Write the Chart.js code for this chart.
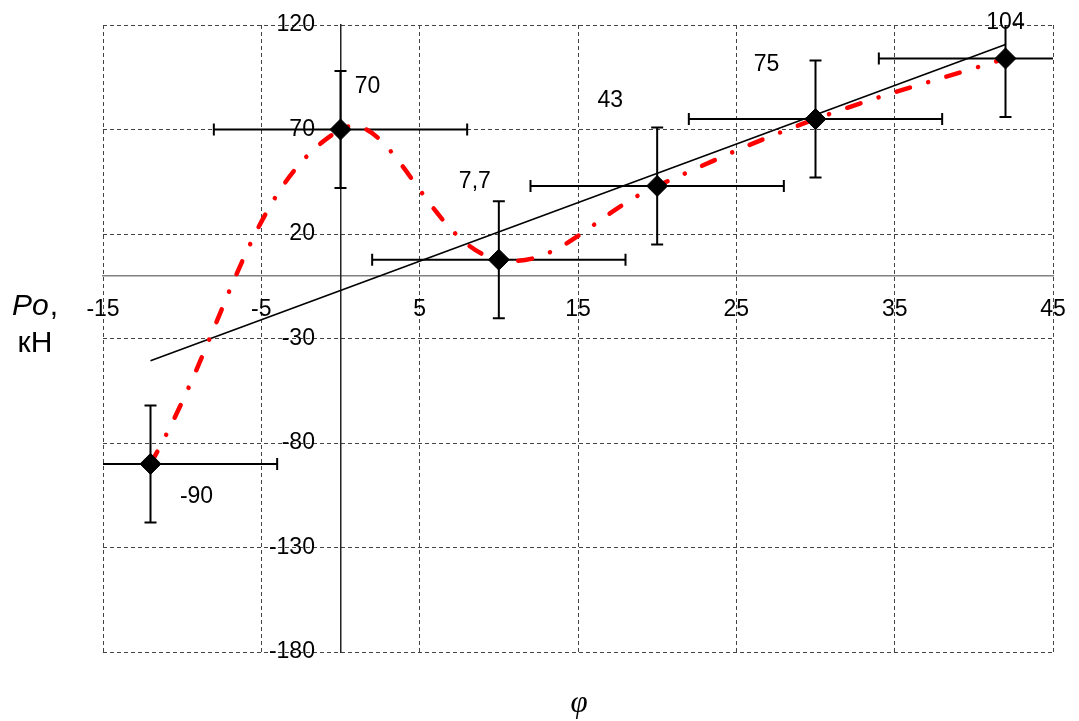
<!DOCTYPE html>
<html>
<head>
<meta charset="utf-8">
<script src="https://cdn.jsdelivr.net/npm/chart.js@4.4.0/dist/chart.umd.min.js"></script>
<style>
  html, body { margin: 0; padding: 0; background: #fff; }
</style>
</head>
<body>
<canvas id="poChart" width="1079" height="721"></canvas>
<script>
// data
const phi = [-12, 0, 10, 20, 30, 42];
const force = [-90, 70, 7.7, 43, 75, 104];
const phiErr = [8, 8, 8, 8, 8, 8];
const forceErr = [28, 28, 28, 28, 28, 28];
const forceLabels = ['-90', '70', '7,7', '43', '75', '104'];
const trendPhi = [-12, 42];
const trendForce = [-40.7, 110.7];
const xTicks = [-15, -5, 5, 15, 25, 35, 45];
const yTicks = [-180, -130, -80, -30, 20, 70, 120];

const FONT = "'Liberation Sans', Arial, sans-serif";

// where each value label sits relative to its point (px)
const labelShift = [[46, 33], [27, -43], [-24, -78], [-47, -85], [-49, -54], [0, -36]];

const errorBars = {
    id: 'errorBars',
    beforeDatasetsDraw(chart) {
        const {ctx, chartArea: a, scales: {x, y}} = chart;
        ctx.save();
        ctx.beginPath();
        ctx.rect(a.left, a.top, a.right - a.left, a.bottom - a.top);
        ctx.clip();
        ctx.strokeStyle = '#000';
        ctx.lineWidth = 2;
        const cap = 6;
        phi.forEach((v, i) => {
            const px = x.getPixelForValue(v);
            const py = y.getPixelForValue(force[i]);
            const x1 = x.getPixelForValue(v - phiErr[i]);
            const x2 = x.getPixelForValue(v + phiErr[i]);
            const y1 = y.getPixelForValue(force[i] + forceErr[i]);
            const y2 = y.getPixelForValue(force[i] - forceErr[i]);
            ctx.beginPath();
            ctx.moveTo(x1, py); ctx.lineTo(x2, py);
            ctx.moveTo(x1, py - cap); ctx.lineTo(x1, py + cap);
            ctx.moveTo(x2, py - cap); ctx.lineTo(x2, py + cap);
            ctx.moveTo(px, y1); ctx.lineTo(px, y2);
            ctx.moveTo(px - cap, y1); ctx.lineTo(px + cap, y1);
            ctx.moveTo(px - cap, y2); ctx.lineTo(px + cap, y2);
            ctx.stroke();
        });
        ctx.restore();
    }
};

const valueLabels = {
    id: 'valueLabels',
    afterDatasetsDraw(chart) {
        const {ctx, scales: {x, y}} = chart;
        ctx.save();
        ctx.fillStyle = '#000';
        ctx.font = '23px ' + FONT;
        ctx.textAlign = 'center';
        ctx.textBaseline = 'middle';
        phi.forEach((v, i) => {
            ctx.fillText(
                forceLabels[i],
                x.getPixelForValue(v) + labelShift[i][0],
                y.getPixelForValue(force[i]) + labelShift[i][1]
            );
        });
        ctx.restore();
    }
};

const axisTitles = {
    id: 'axisTitles',
    afterDraw(chart) {
        const {ctx} = chart;
        ctx.save();
        ctx.fillStyle = '#000';
        ctx.textBaseline = 'alphabetic';
        ctx.textAlign = 'left';
        ctx.font = 'italic 30px ' + FONT;
        ctx.fillText('Po', 12, 315);
        const w = ctx.measureText('Po').width;
        ctx.font = '30px ' + FONT;
        ctx.fillText(',', 12 + w + 1, 315);
        ctx.textAlign = 'center';
        ctx.fillText('кН', 35, 352);
        ctx.font = "italic 31px 'Liberation Serif', 'Times New Roman', serif";
        ctx.fillText('φ', 579, 712);
        ctx.restore();
    }
};

// centred axes: keep the plot box exactly where layout.padding puts it
const noScalePadding = s => {
    s.paddingLeft = 0;
    s.paddingRight = 0;
    s.paddingTop = 0;
    s.paddingBottom = 0;
};

new Chart(document.getElementById('poChart'), {
    type: 'scatter',
    data: {
        datasets: [
            {
                label: 'points',
                data: phi.map((v, i) => ({x: v, y: force[i]})),
                pointStyle: 'rectRot',
                pointRadius: 10.5,
                pointBackgroundColor: '#000',
                pointBorderColor: '#000',
                pointBorderWidth: 1,
                showLine: false
            },
            {
                label: 'smooth',
                data: phi.map((v, i) => ({x: v, y: force[i]})),
                showLine: true,
                borderColor: '#ff0000',
                borderWidth: 4.5,
                borderDash: [14, 19, 0.1, 19],
                borderCapStyle: 'round',
                tension: 0.4,
                pointRadius: 0,
                fill: false
            },
            {
                label: 'trend',
                data: trendPhi.map((v, i) => ({x: v, y: trendForce[i]})),
                showLine: true,
                borderColor: '#000',
                borderWidth: 1.6,
                pointRadius: 0,
                fill: false
            }
        ]
    },
    options: {
        responsive: false,
        animation: false,
        layout: {
            padding: {left: 103, right: 26, top: 25, bottom: 69}
        },
        plugins: {
            legend: {display: false},
            tooltip: {enabled: false}
        },
        scales: {
            x: {
                type: 'linear',
                min: -15,
                max: 45,
                position: {y: 0},
                afterBuildTicks: s => { s.ticks = xTicks.map(v => ({value: v})); },
                afterFit: noScalePadding,
                grid: {color: '#444', lineWidth: 1, drawTicks: false},
                border: {display: true, color: '#808080', width: 1.5, dash: [4, 3]},
                ticks: {color: '#000', font: {family: FONT, size: 23}, padding: 20, maxRotation: 0, autoSkip: false}
            },
            y: {
                type: 'linear',
                min: -180,
                max: 120,
                position: {x: 0},
                afterBuildTicks: s => { s.ticks = yTicks.map(v => ({value: v})); },
                afterFit: noScalePadding,
                grid: {color: '#444', lineWidth: 1, drawTicks: false},
                border: {display: true, color: '#222', width: 1.5, dash: [4, 3]},
                // labels of a centred axis ignore padding, so trail them with spaces
                ticks: {color: '#000', font: {family: FONT, size: 23}, autoSkip: false, callback: v => v + '    '}
            }
        }
    },
    plugins: [errorBars, valueLabels, axisTitles]
});
</script>
</body>
</html>
